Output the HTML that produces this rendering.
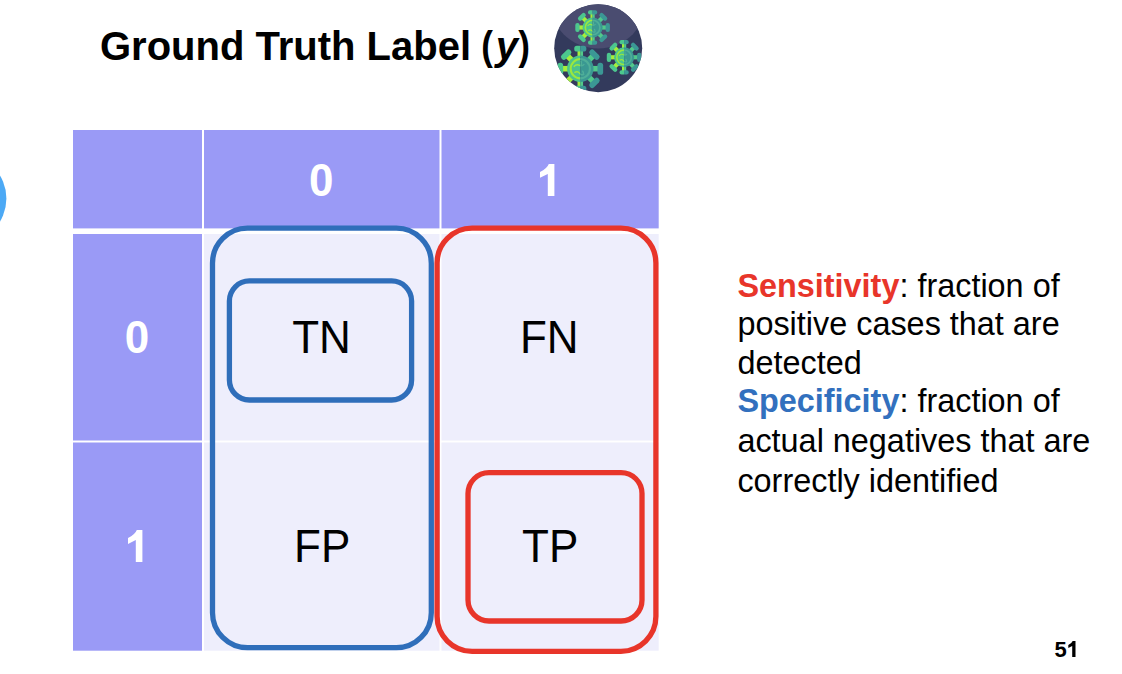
<!DOCTYPE html>
<html>
<head>
<meta charset="utf-8">
<style>
html,body{margin:0;padding:0;}
body{width:1122px;height:674px;background:#fff;position:relative;overflow:hidden;font-family:"Liberation Sans",sans-serif;}
svg{position:absolute;left:0;top:0;display:block;}
text{font-family:"Liberation Sans",sans-serif;}
</style>
</head>
<body>
<svg width="1122" height="674" viewBox="0 0 1122 674">
  <defs>
    <!-- Arial-style bold "1" (no foot), 44px size, origin = ink-left/baseline -->
    <path id="one" d="M7.8 0 L14.4 0 L14.4 -31.9 L8.8 -31.9 Q7.0 -27.25 0 -24.0 L0 -18.1 L7.8 -21.9 Z"/>
    <clipPath id="vc"><circle cx="598.2" cy="48.2" r="44"/></clipPath>
    <clipPath id="lh"><rect x="-30" y="-30" width="30" height="60"/></clipPath><clipPath id="rh"><rect x="0" y="-30" width="30" height="60"/></clipPath><g id="vir"><g clip-path="url(#lh)"><g transform="rotate(0)"><rect x="-2.1" y="-13.8" width="4.2" height="5" fill="#a6ee3a"/><rect x="-4.6" y="-17.3" width="9.2" height="4.3" rx="2" fill="#4cc78e"/></g><g transform="rotate(45)"><rect x="-2.1" y="-13.8" width="4.2" height="5" fill="#a6ee3a"/><rect x="-4.6" y="-17.3" width="9.2" height="4.3" rx="2" fill="#4cc78e"/></g><g transform="rotate(90)"><rect x="-2.1" y="-13.8" width="4.2" height="5" fill="#a6ee3a"/><rect x="-4.6" y="-17.3" width="9.2" height="4.3" rx="2" fill="#4cc78e"/></g><g transform="rotate(135)"><rect x="-2.1" y="-13.8" width="4.2" height="5" fill="#a6ee3a"/><rect x="-4.6" y="-17.3" width="9.2" height="4.3" rx="2" fill="#4cc78e"/></g><g transform="rotate(180)"><rect x="-2.1" y="-13.8" width="4.2" height="5" fill="#a6ee3a"/><rect x="-4.6" y="-17.3" width="9.2" height="4.3" rx="2" fill="#4cc78e"/></g><g transform="rotate(225)"><rect x="-2.1" y="-13.8" width="4.2" height="5" fill="#a6ee3a"/><rect x="-4.6" y="-17.3" width="9.2" height="4.3" rx="2" fill="#4cc78e"/></g><g transform="rotate(270)"><rect x="-2.1" y="-13.8" width="4.2" height="5" fill="#a6ee3a"/><rect x="-4.6" y="-17.3" width="9.2" height="4.3" rx="2" fill="#4cc78e"/></g><g transform="rotate(315)"><rect x="-2.1" y="-13.8" width="4.2" height="5" fill="#a6ee3a"/><rect x="-4.6" y="-17.3" width="9.2" height="4.3" rx="2" fill="#4cc78e"/></g><circle r="10" fill="#4bc48d"/><circle r="7.3" fill="none" stroke="#9be83e" stroke-width="1.6"/><path d="M-5 -1.5 q2 -2.5 4.5 -1 q2 1 3.5 -1 M-4.5 3 q2.5 -1.5 4 0.5 q1.5 2 3.5 0.5 M0.5 -6 q1 2.5 -0.5 4 M1.5 1.5 q1.5 1.5 0.5 3.5" fill="none" stroke="#9be83e" stroke-width="1.1"/></g><g clip-path="url(#rh)"><g transform="rotate(0)"><rect x="-2.1" y="-13.8" width="4.2" height="5" fill="#52c98b"/><rect x="-4.6" y="-17.3" width="9.2" height="4.3" rx="2" fill="#3b9895"/></g><g transform="rotate(45)"><rect x="-2.1" y="-13.8" width="4.2" height="5" fill="#52c98b"/><rect x="-4.6" y="-17.3" width="9.2" height="4.3" rx="2" fill="#3b9895"/></g><g transform="rotate(90)"><rect x="-2.1" y="-13.8" width="4.2" height="5" fill="#52c98b"/><rect x="-4.6" y="-17.3" width="9.2" height="4.3" rx="2" fill="#3b9895"/></g><g transform="rotate(135)"><rect x="-2.1" y="-13.8" width="4.2" height="5" fill="#52c98b"/><rect x="-4.6" y="-17.3" width="9.2" height="4.3" rx="2" fill="#3b9895"/></g><g transform="rotate(180)"><rect x="-2.1" y="-13.8" width="4.2" height="5" fill="#52c98b"/><rect x="-4.6" y="-17.3" width="9.2" height="4.3" rx="2" fill="#3b9895"/></g><g transform="rotate(225)"><rect x="-2.1" y="-13.8" width="4.2" height="5" fill="#52c98b"/><rect x="-4.6" y="-17.3" width="9.2" height="4.3" rx="2" fill="#3b9895"/></g><g transform="rotate(270)"><rect x="-2.1" y="-13.8" width="4.2" height="5" fill="#52c98b"/><rect x="-4.6" y="-17.3" width="9.2" height="4.3" rx="2" fill="#3b9895"/></g><g transform="rotate(315)"><rect x="-2.1" y="-13.8" width="4.2" height="5" fill="#52c98b"/><rect x="-4.6" y="-17.3" width="9.2" height="4.3" rx="2" fill="#3b9895"/></g><circle r="10" fill="#3a9892"/><circle r="7.3" fill="none" stroke="#4fae98" stroke-width="1.6"/><path d="M-5 -1.5 q2 -2.5 4.5 -1 q2 1 3.5 -1 M-4.5 3 q2.5 -1.5 4 0.5 q1.5 2 3.5 0.5 M0.5 -6 q1 2.5 -0.5 4 M1.5 1.5 q1.5 1.5 0.5 3.5" fill="none" stroke="#4fae98" stroke-width="1.1"/></g></g>
  </defs>

  <!-- title -->
  <g font-size="40" font-weight="bold" fill="#000">
    <text x="100" y="59.7">Ground Truth Label</text>
    <text transform="translate(481.25,59.7) scale(0.876,1)">(</text>
    <text transform="translate(495.7,59.7)" font-style="italic">y</text>
    <text transform="translate(518.17,59.7) scale(0.877,1)">)</text>
  </g>

  <!-- left partial blue circle -->
  <circle cx="-38" cy="198.4" r="44.4" fill="#4ca9f5"/>

  <!-- virus icon -->
  <g id="virus">
    <circle cx="598.2" cy="48.2" r="44" fill="#333a5c"/>
    <g clip-path="url(#vc)">
      <circle cx="598.2" cy="-0.5" r="49" fill="#4a4c70"/>
      <use href="#vir" transform="translate(592.6,27.5)"/>
      <use href="#vir" transform="translate(624.1,57.3) scale(1.0)"/>
      <use href="#vir" transform="translate(580.3,68.7) scale(1.32)"/>
    </g>
  </g>

  <!-- table cells -->
  <g>
    <rect x="73" y="130" width="129" height="98.4" fill="#9a9af6"/>
    <rect x="204" y="130" width="235.5" height="98.4" fill="#9a9af6"/>
    <rect x="441.5" y="130" width="217.2" height="98.4" fill="#9a9af6"/>

    <rect x="73" y="234" width="129" height="206.5" fill="#9a9af6"/>
    <rect x="204" y="234" width="235.5" height="206.5" fill="#eeeefc"/>
    <rect x="441.5" y="234" width="217.2" height="206.5" fill="#eeeefc"/>

    <rect x="73" y="442.5" width="129" height="208.2" fill="#9a9af6"/>
    <rect x="204" y="442.5" width="235.5" height="208.2" fill="#eeeefc"/>
    <rect x="441.5" y="442.5" width="217.2" height="208.2" fill="#eeeefc"/>
  </g>

  <!-- header / row labels -->
  <g fill="#fff" font-weight="bold" font-size="44">
    <text transform="translate(308.96,196.1) scale(1,1.04)">0</text>
    <use href="#one" transform="translate(540,195.9)"/>
    <text transform="translate(124.66,353.2) scale(1,1.04)">0</text>
    <use href="#one" transform="translate(128,562)"/>
  </g>

  <!-- cell labels -->
  <g fill="#000" font-size="44">
    <text transform="translate(292.2,353.1) scale(1,1.04)">TN</text>
    <text transform="translate(519.96,353.0) scale(1,1.04)">FN</text>
    <text transform="translate(294.06,561.8) scale(1,1.04)">FP</text>
    <text transform="translate(522.1,562.0) scale(1,1.04)">TP</text>
  </g>

  <!-- rounded outlines -->
  <g fill="none" stroke-width="5.3">
    <rect x="212.5" y="228.2" width="218.8" height="419.5" rx="35" stroke="#2f6eba"/>
    <rect x="437.1" y="228.1" width="218.8" height="423.2" rx="35" stroke="#e8352a"/>
    <rect x="229.4" y="280.9" width="182.2" height="119.1" rx="20" stroke="#2f6eba"/>
    <rect x="468" y="472.6" width="174" height="148.4" rx="21" stroke="#e8352a"/>
  </g>

  <!-- right paragraph -->
  <g font-size="32.4" fill="#000">
    <text x="737.4" y="296.75"><tspan font-weight="bold" fill="#e8352a">Sensitivity</tspan>: fraction of</text>
    <text x="737.4" y="334.7">positive cases that are</text>
    <text x="737.4" y="373.6">detected</text>
    <text x="737.4" y="411.75"><tspan font-weight="bold" fill="#3270be">Specificity</tspan>: fraction of</text>
    <text x="737.4" y="451.75">actual negatives that are</text>
    <text x="737.4" y="491.5">correctly identified</text>
  </g>

  <!-- page number -->
  <g fill="#000">
    <text transform="translate(1054.6,657) scale(1,1.04)" font-size="22" font-weight="bold">5</text>
    <use href="#one" transform="translate(1068.3,657) scale(0.5)"/>
  </g>
</svg>
</body>
</html>
